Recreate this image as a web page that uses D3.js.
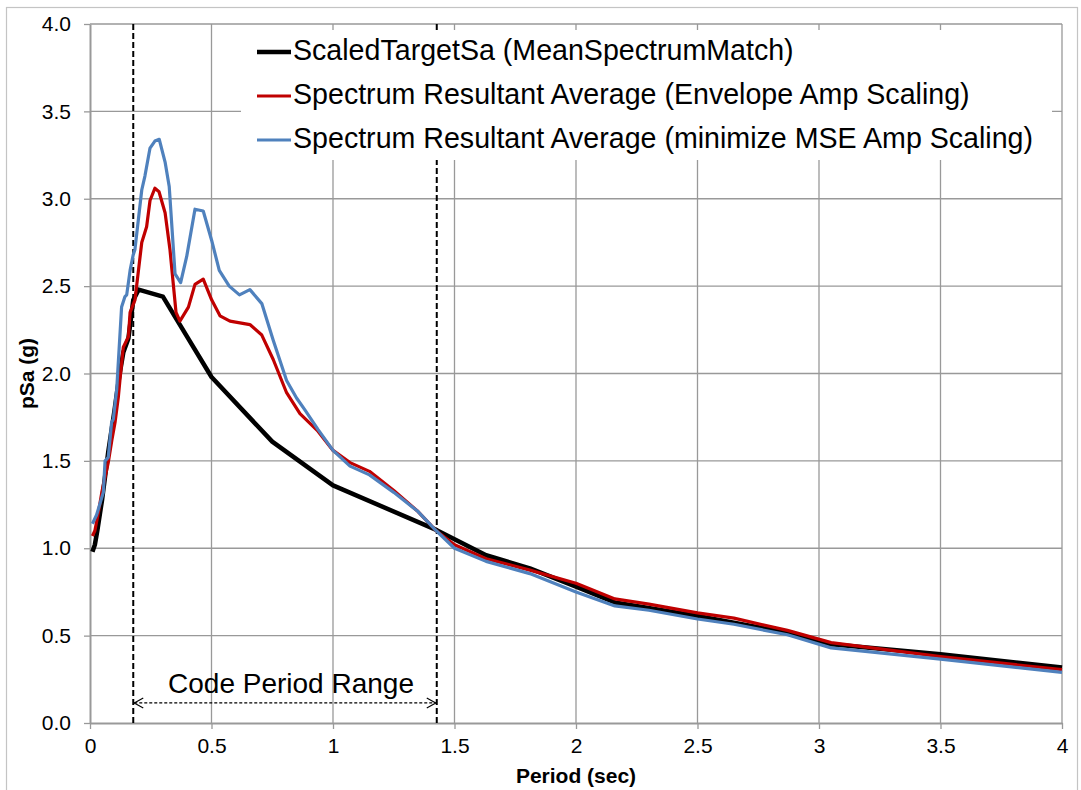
<!DOCTYPE html>
<html>
<head>
<meta charset="utf-8">
<script src="https://cdn.jsdelivr.net/npm/d3@7"></script>
<style>
  html, body { margin: 0; padding: 0; background: #fff; }
  svg { display: block; font-family: "Liberation Sans", Arial, sans-serif; }
</style>
</head>
<body>
<svg id="chart" width="1081" height="790"></svg>
<script>
// Axis ticks
const xTicks = [0, 0.5, 1, 1.5, 2, 2.5, 3, 3.5, 4];
const yTicks = [0, 0.5, 1, 1.5, 2, 2.5, 3, 3.5, 4];
const xTickLabels = ["0", "0.5", "1", "1.5", "2", "2.5", "3", "3.5", "4"];
const yTickLabels = ["0.0", "0.5", "1.0", "1.5", "2.0", "2.5", "3.0", "3.5", "4.0"];

// Code period range (sec)
const codeRange = [0.178, 1.427];

// ScaledTargetSa (MeanSpectrumMatch)
const targetPeriods = [0.01, 0.02, 0.03, 0.05, 0.075, 0.1, 0.12, 0.137, 0.158, 0.178, 0.2, 0.3, 0.4, 0.5, 0.75, 1.0, 1.425, 1.63, 1.81, 2.0, 2.16, 2.5, 2.87, 3.05, 3.5, 4.0];
const targetSa      = [0.98, 1.02, 1.10, 1.28, 1.55, 1.78, 1.98, 2.12, 2.20, 2.42, 2.48, 2.44, 2.21, 1.98, 1.61, 1.36, 1.105, 0.96, 0.885, 0.78, 0.69, 0.612, 0.517, 0.45, 0.393, 0.317];

// Spectrum Resultant Average (Envelope Amp Scaling)
const envelopePeriods = [0.01, 0.02, 0.034, 0.05, 0.075, 0.09, 0.103, 0.117, 0.123, 0.137, 0.158, 0.165, 0.185, 0.213, 0.233, 0.247, 0.267, 0.284, 0.309, 0.329, 0.354, 0.37, 0.405, 0.432, 0.466, 0.501, 0.535, 0.576, 0.658, 0.707, 0.754, 0.809, 0.864, 0.938, 1.0, 1.07, 1.15, 1.25, 1.35, 1.425, 1.5, 1.63, 1.81, 2.0, 2.16, 2.3, 2.5, 2.65, 2.87, 3.05, 3.5, 4.0];
const envelopeSa      = [1.07, 1.10, 1.20, 1.33, 1.49, 1.62, 1.72, 1.87, 1.96, 2.15, 2.21, 2.35, 2.42, 2.75, 2.84, 2.99, 3.06, 3.04, 2.92, 2.71, 2.35, 2.30, 2.38, 2.51, 2.54, 2.42, 2.33, 2.30, 2.28, 2.22, 2.08, 1.89, 1.77, 1.67, 1.56, 1.49, 1.44, 1.33, 1.21, 1.10, 1.02, 0.94, 0.875, 0.80, 0.71, 0.68, 0.63, 0.60, 0.53, 0.46, 0.38, 0.305];

// Spectrum Resultant Average (minimize MSE Amp Scaling)
const msePeriods = [0.01, 0.027, 0.055, 0.062, 0.075, 0.089, 0.096, 0.11, 0.13, 0.144, 0.151, 0.165, 0.178, 0.185, 0.213, 0.226, 0.247, 0.267, 0.285, 0.309, 0.326, 0.35, 0.373, 0.398, 0.432, 0.466, 0.501, 0.532, 0.573, 0.615, 0.658, 0.707, 0.754, 0.809, 0.85, 0.885, 0.938, 1.0, 1.07, 1.15, 1.25, 1.35, 1.425, 1.5, 1.63, 1.81, 2.0, 2.16, 2.3, 2.5, 2.65, 2.87, 3.05, 3.5, 4.0];
const mseSa      = [1.14, 1.19, 1.32, 1.50, 1.52, 1.72, 1.74, 1.91, 2.38, 2.44, 2.45, 2.59, 2.68, 2.71, 3.05, 3.13, 3.29, 3.33, 3.34, 3.21, 3.07, 2.57, 2.52, 2.67, 2.94, 2.93, 2.76, 2.59, 2.50, 2.45, 2.48, 2.40, 2.19, 1.96, 1.86, 1.79, 1.68, 1.56, 1.47, 1.42, 1.32, 1.21, 1.10, 1.00, 0.925, 0.855, 0.75, 0.67, 0.645, 0.595, 0.565, 0.505, 0.43, 0.365, 0.29];

const seriesNames = [
  "ScaledTargetSa (MeanSpectrumMatch)",
  "Spectrum Resultant Average (Envelope Amp Scaling)",
  "Spectrum Resultant Average (minimize MSE Amp Scaling)"
];
const seriesColors = ["#000000", "#C00000", "#4F81BD"];
const seriesWidths = [4.5, 3.2, 3.2];

const series = [
  { name: seriesNames[0], pts: targetPeriods.map((t, i) => [t, targetSa[i]]) },
  { name: seriesNames[1], pts: envelopePeriods.map((t, i) => [t, envelopeSa[i]]) },
  { name: seriesNames[2], pts: msePeriods.map((t, i) => [t, mseSa[i]]) }
];

const svg = d3.select("#chart");
const plot = { left: 90, right: 1062, top: 24, bottom: 723 };

const x = d3.scaleLinear().domain([0, 4]).range([plot.left, plot.right]);
const y = d3.scaleLinear().domain([0, 4]).range([plot.bottom, plot.top]);

const gridColor = "#999999";

// Outer chart frame
svg.append("rect")
  .attr("x", 6.5).attr("y", 7.5)
  .attr("width", 1071).attr("height", 790)
  .attr("fill", "none").attr("stroke", "#c4c4c4").attr("stroke-width", 1.2);

// Gridlines
const grid = svg.append("g");
grid.selectAll("line.gx").data(xTicks.slice(1)).join("line")
  .attr("x1", d => x(d)).attr("x2", d => x(d))
  .attr("y1", plot.top).attr("y2", plot.bottom)
  .attr("stroke", gridColor).attr("stroke-width", 1.3);
grid.selectAll("line.gy").data(yTicks.slice(1)).join("line")
  .attr("x1", plot.left).attr("x2", plot.right)
  .attr("y1", d => y(d)).attr("y2", d => y(d))
  .attr("stroke", gridColor).attr("stroke-width", 1.3);

// Axes
const xAxis = svg.append("g")
  .attr("transform", `translate(0,${plot.bottom})`)
  .call(d3.axisBottom(x).tickValues(xTicks)
    .tickFormat((d, i) => xTickLabels[i]).tickSize(6).tickSizeOuter(0).tickPadding(9));
const yAxis = svg.append("g")
  .attr("transform", `translate(${plot.left},0)`)
  .call(d3.axisLeft(y).tickValues(yTicks)
    .tickFormat((d, i) => yTickLabels[i]).tickSize(6).tickSizeOuter(0).tickPadding(13));
[xAxis, yAxis].forEach(g => {
  g.select(".domain").attr("stroke", gridColor).attr("stroke-width", 2);
  g.selectAll(".tick line").attr("stroke", gridColor).attr("stroke-width", 1.3);
  g.selectAll(".tick text").attr("fill", "#000")
    .style("font-size", "21px").style("font-family", "'Liberation Sans', Arial, sans-serif");
});

// Code period range markers
const codeG = svg.append("g");
codeG.selectAll("line.code").data(codeRange).join("line")
  .attr("x1", d => x(d)).attr("x2", d => x(d))
  .attr("y1", plot.top).attr("y2", plot.bottom)
  .attr("stroke", "#000").attr("stroke-width", 2)
  .attr("stroke-dasharray", "6,3");

const arrowY = y(0.115);
codeG.append("line")
  .attr("x1", x(codeRange[0]) + 1).attr("x2", x(codeRange[1]) - 1)
  .attr("y1", arrowY).attr("y2", arrowY)
  .attr("stroke", "#000").attr("stroke-width", 1.2)
  .attr("stroke-dasharray", "3,2");
[[codeRange[0], 1], [codeRange[1], -1]].forEach(([v, dir]) => {
  const px = x(v) + dir;
  codeG.append("path")
    .attr("d", `M${px + dir * 9},${arrowY - 5}L${px},${arrowY}L${px + dir * 9},${arrowY + 5}`)
    .attr("fill", "none").attr("stroke", "#000").attr("stroke-width", 1.2);
});
codeG.append("text")
  .attr("x", (x(codeRange[0]) + x(codeRange[1])) / 2 + 6)
  .attr("y", arrowY - 10)
  .attr("text-anchor", "middle")
  .style("font-size", "28px")
  .text("Code Period Range");

// Series lines
const line = d3.line().x(d => x(d[0])).y(d => y(d[1]));
svg.append("g").selectAll("path").data(series).join("path")
  .attr("d", d => line(d.pts))
  .attr("fill", "none")
  .attr("stroke", (d, i) => seriesColors[i])
  .attr("stroke-width", (d, i) => seriesWidths[i])
  .attr("stroke-linejoin", "round");

// Legend
const legend = svg.append("g");
legend.append("rect")
  .attr("x", 241).attr("y", 30).attr("width", 811).attr("height", 130)
  .attr("fill", "#fff");
const rows = legend.selectAll("g.row").data(seriesNames).join("g")
  .attr("transform", (d, i) => `translate(0,${60 + i * 44})`);
rows.append("line")
  .attr("x1", 257).attr("x2", 291).attr("y1", -8).attr("y2", -8)
  .attr("stroke", (d, i) => seriesColors[i])
  .attr("stroke-width", (d, i) => seriesWidths[i]);
rows.append("text")
  .attr("x", 293).attr("y", 0)
  .style("font-size", "28.6px")
  .text(d => d);

// Axis titles
svg.append("text")
  .attr("x", (plot.left + plot.right) / 2).attr("y", 783)
  .attr("text-anchor", "middle")
  .style("font-size", "21px").style("font-weight", "bold")
  .text("Period (sec)");
svg.append("text")
  .attr("transform", `translate(34,${(plot.top + plot.bottom) / 2}) rotate(-90)`)
  .attr("text-anchor", "middle")
  .style("font-size", "21px").style("font-weight", "bold")
  .text("pSa (g)");
</script>
</body>
</html>
